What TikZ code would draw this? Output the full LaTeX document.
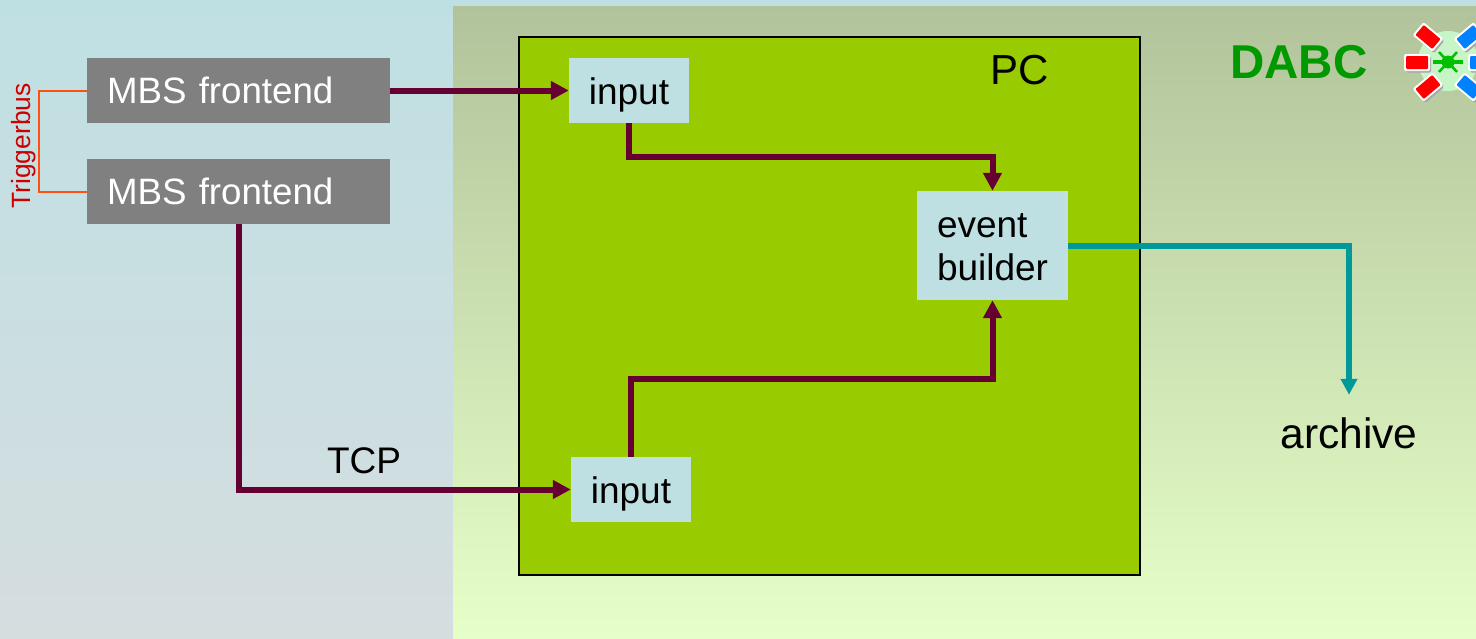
\documentclass[tikz,border=0pt]{standalone}
\usepackage{fontspec}
\setmainfont{Liberation Sans}
\usetikzlibrary{arrows.meta,calc}
\definecolor{flow}{HTML}{660033}
\definecolor{teal2}{HTML}{009999}
\definecolor{boxblue}{HTML}{BFE0E3}
\definecolor{pcgreen}{HTML}{99CC00}
\definecolor{frontgray}{HTML}{808080}
\definecolor{trig}{HTML}{CC0000}
\definecolor{trigline}{HTML}{FF5010}
\definecolor{dabcgreen}{HTML}{009900}
\definecolor{leftbot}{HTML}{D5DDDF}
\definecolor{righttop}{HTML}{B2C39B}
\definecolor{rightbot}{HTML}{E6FFC8}
\definecolor{logobg}{HTML}{C8F5C8}
\definecolor{logoblue}{HTML}{0082FF}
\definecolor{logostar}{HTML}{00C000}
\tikzset{
  lab/.style={font=\fontsize{37}{43}\selectfont,text=black,inner sep=0pt},
  frontbox/.style={fill=frontgray,text=white,minimum width=303pt,minimum height=65pt,inner ysep=0pt,inner xsep=20pt,text width=263pt,align=left,font=\fontsize{36.7}{43}\selectfont},
  inbox/.style={fill=boxblue,minimum width=120pt,minimum height=65pt,inner sep=0pt,text height=27pt,text depth=0pt,font=\fontsize{37}{43}\selectfont},
  ebbox/.style={fill=boxblue,minimum width=151pt,minimum height=109pt,inner ysep=0pt,inner xsep=20pt,text width=111pt,align=left,font=\fontsize{37}{43}\selectfont},
  flowline/.style={draw=flow,line width=6pt,-{Triangle[length=18pt,width=18pt]}},
  tealline/.style={draw=teal2,line width=6pt,-{Triangle[length=16pt,width=16pt]}},
  trigwire/.style={draw=trigline,line width=2pt},
}
\begin{document}
\begin{tikzpicture}[x=1pt,y=-1pt]
\useasboundingbox (0,0) rectangle (1476,638);
\begin{scope}
\clip (0,0) rectangle (1476,638);
\path[top color=boxblue,bottom color=leftbot] (0,0) rectangle (1476,638);
\path[top color=righttop,bottom color=rightbot] (453,6) rectangle (1476,638);
% logo
\fill[logobg] (1448,61) circle (30);
\foreach \px/\py/\r/\c in {1428/37/-40/red,1428/87/40/red,1417/62.5/0/red,1469/37/40/logoblue,1469/87/-40/logoblue,1481/62.5/0/logoblue}{
  \begin{scope}[shift={(\px+1.5,\py+2)},rotate=\r]
    \fill[black!35,rounded corners=1.5pt] (-12.5,-8) rectangle (12.5,8);
  \end{scope}
  \begin{scope}[shift={(\px,\py)},rotate=\r]
    \fill[white,rounded corners=1.5pt] (-13,-8.5) rectangle (13,8.5);
    \fill[\c,rounded corners=1pt] (-11,-6.5) rectangle (11,6.5);
  \end{scope}
}
\draw[logostar,line width=4pt] (1433,62) -- (1463,62);
\draw[logostar,line width=2.5pt] (1439,52) -- (1457,72) (1457,52) -- (1439,72);
\fill[logostar] (1448,62) circle (6.5);
\end{scope}

\node[draw=black,line width=2pt,fill=pcgreen,minimum width=621pt,minimum height=538pt,inner sep=0pt] (pc) at (829.5,306) {};
\node[lab,font=\fontsize{42}{48}\selectfont] (pclabel) at (1020,70) {PC};
\node[lab,font=\fontsize{47.5}{54}\selectfont\bfseries,text=dabcgreen] (dabc) at (1299,62) {DABC};

\node[frontbox] (m1) at (238.5,90.5) {MBS frontend};
\node[frontbox] (m2) at (238.5,191.5) {MBS frontend};
\node[inbox] (i1) at (629,90.5) {input};
\node[inbox] (i2) at (631,489.5) {input};
\node[ebbox] (eb) at (992.5,245.5) {\rule{0pt}{28pt}event\\builder};
\node[lab] (tcp) at (364,461) {TCP};
\node[lab,font=\fontsize{42.5}{48}\selectfont,minimum height=76pt] (arc) at (1349,433) {archive};
\node[rotate=90,text=trig,inner sep=0pt,font=\fontsize{26.4}{30}\selectfont] (tb) at (24,146) {Triggerbus};

\coordinate (m2out) at ($(m2.south west)+(152,0)$);
\draw[trigwire] (m1.west) -- ++(-48,0) |- (m2.west);
\draw[flowline] (m1.east) -- (i1.west);
\draw[flowline] (i1.south) -- ++(0,34) -| (eb.north);
\draw[flowline] (i2.north) -- ++(0,-78) -| (eb.south);
\draw[flowline] (m2out) |- (i2.west);
\draw[tealline] (eb.east) -| (arc.north);
\end{tikzpicture}
\end{document}
